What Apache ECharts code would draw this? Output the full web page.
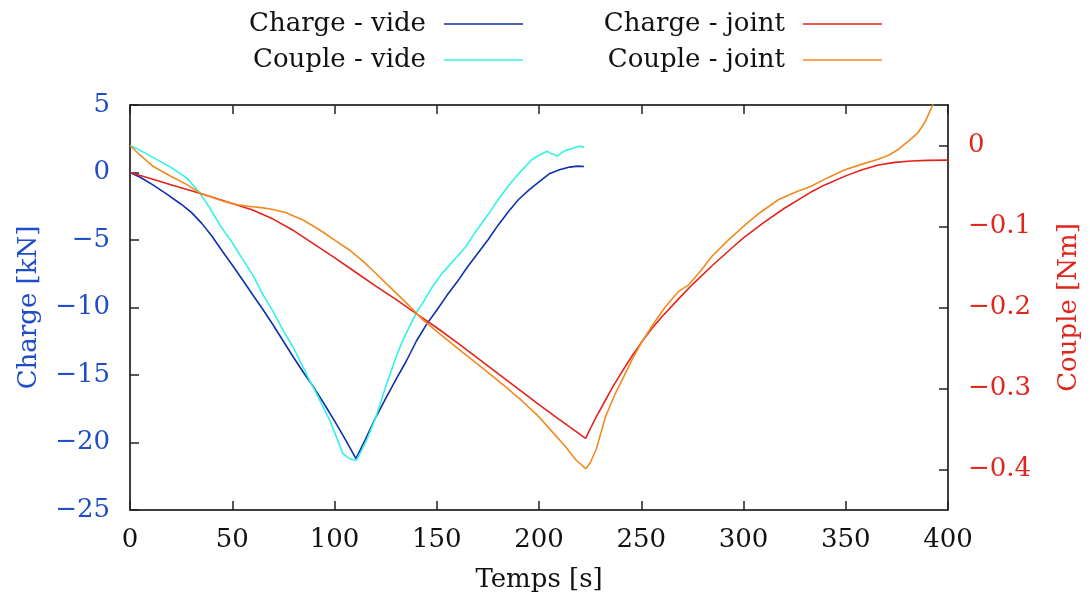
<!DOCTYPE html>
<html>
<head>
<meta charset="utf-8">
<script src="https://cdn.jsdelivr.net/npm/echarts@6/dist/echarts.min.js"></script>
<style>html,body{margin:0;padding:0;background:#fff}#c{width:1090px;height:601px}</style>
</head>
<body>
<div id="c"></div>
<script>
// ---- Data ----
const seriesNames = ['Charge - vide', 'Couple - vide', 'Charge - joint', 'Couple - joint'];
const xTicks = [0, 50, 100, 150, 200, 250, 300, 350, 400];
const leftTicks = [-25, -20, -15, -10, -5, 0, 5];
const rightTicks = [0, -0.1, -0.2, -0.3, -0.4];

const chargeVideT = [0,5,11,18,25,30,35,40,45,50,55,60,65,70,75,80,85,90,95,100,105,110.5,115,120,125,130,135,140,145,150,155,160,165,170,175,180,185,190,195,200,205,210,215,219,222];
const chargeVide  = [0,-0.35,-0.9,-1.6,-2.35,-2.95,-3.75,-4.7,-5.8,-6.85,-7.95,-9.05,-10.15,-11.3,-12.5,-13.7,-14.85,-15.95,-17.15,-18.4,-19.7,-21.2,-19.8,-18.2,-16.75,-15.35,-14.0,-12.5,-11.25,-10.2,-9.1,-8.1,-7.0,-6.0,-5.0,-3.9,-2.9,-2.0,-1.3,-0.7,-0.1,0.2,0.4,0.47,0.45];

const coupleVideT = [0,5,11.4,20,27.7,34.1,39,43.9,50,55,60.1,65,70,74.8,80,87.8,92,97.6,101,104,107,110.6,113,116,120.3,125,130.1,133,136.6,139.9,144,148,152,156.1,160,164.2,168,172,176,180.5,185,190,196.7,200,204,206,208.9,211,213,216,219.5,222];
const coupleVide  = [0,-0.006,-0.015,-0.027,-0.040,-0.0585,-0.077,-0.098,-0.120,-0.140,-0.160,-0.184,-0.205,-0.228,-0.250,-0.290,-0.310,-0.339,-0.360,-0.380,-0.386,-0.389,-0.378,-0.362,-0.335,-0.298,-0.261,-0.243,-0.224,-0.207,-0.191,-0.174,-0.160,-0.148,-0.137,-0.125,-0.110,-0.096,-0.082,-0.065,-0.050,-0.035,-0.017,-0.012,-0.007,-0.010,-0.013,-0.009,-0.006,-0.004,-0.001,-0.002];

const chargeJointT = [0,10,20,30,40,50,60,70,80,90,100,110,120,130,140,150,160,170,180,190,200,210,222.8,225,228,232,236,240,245,250,255,260,268,275,285,295,300,310,320,333,340,350,358,366,374,382,390,400];
const chargeJoint  = [0,-0.45,-0.9,-1.35,-1.82,-2.3,-2.78,-3.45,-4.3,-5.3,-6.3,-7.35,-8.4,-9.4,-10.45,-11.5,-12.6,-13.75,-14.9,-16.05,-17.2,-18.3,-19.7,-19.0,-18.1,-17.0,-15.9,-14.9,-13.7,-12.6,-11.6,-10.7,-9.4,-8.3,-6.85,-5.5,-4.85,-3.7,-2.65,-1.45,-0.9,-0.25,0.2,0.55,0.75,0.85,0.9,0.92];

const coupleJointT = [0,5,11.4,20,27.7,34.1,40,46,52,58,65,70,76.4,80,84.6,90,95,100.8,107.3,114,120.3,126,131.7,137,143.1,151.2,159,167.5,175,183.7,192,200,206,213,218,222.8,225,228,232.5,237,242.3,246,250.4,256,261.8,268.3,273.2,279,284.5,292,300.8,308,317,325,333.3,341,349.6,358,365.9,371,375.6,380.5,385.4,389,392.7,396];
const coupleJoint  = [0,-0.012,-0.026,-0.038,-0.048,-0.0585,-0.064,-0.069,-0.073,-0.075,-0.077,-0.079,-0.083,-0.087,-0.092,-0.100,-0.108,-0.118,-0.129,-0.143,-0.158,-0.172,-0.186,-0.199,-0.215,-0.232,-0.248,-0.265,-0.280,-0.298,-0.316,-0.335,-0.352,-0.372,-0.388,-0.399,-0.392,-0.375,-0.335,-0.308,-0.281,-0.262,-0.242,-0.220,-0.199,-0.180,-0.172,-0.155,-0.137,-0.118,-0.098,-0.083,-0.067,-0.058,-0.050,-0.040,-0.030,-0.023,-0.017,-0.012,-0.005,0.005,0.016,0.030,0.051,0.07];

// ---- Styling ----
const FONT = 'DejaVu Serif';
const FS = 26;
const colors = ['#0f2fae', '#33f2e4', '#e3231b', '#f38a20'];
const blueText = '#1f4cc8';
const redText = '#e0261c';
const minus = v => String(v).replace('-', '\u2212');
const pairs = (t, v) => t.map((x, i) => [x, v[i]]);

const chart = echarts.init(document.getElementById('c'), null, {renderer: 'canvas'});

function legendFor(name, rightPx, topPx) {
  return {
    data: [name], right: rightPx, top: topPx, padding: 0,
    align: 'right', icon: 'rect', itemWidth: 79, itemHeight: 1.6,
    selectedMode: false,
    textStyle: {fontFamily: FONT, fontSize: FS, color: '#111', lineHeight: 30, padding: [0, 13, 0, 0]}
  };
}

const lineStyleAxis = {color: '#000', width: 1.5};
const tickStyle = {color: '#222', width: 1.5};

chart.setOption({
  animation: false,
  color: colors,
  legend: [
    legendFor(seriesNames[0], 567, 9),
    legendFor(seriesNames[1], 567, 45),
    legendFor(seriesNames[2], 208, 9),
    legendFor(seriesNames[3], 208, 45)
  ],
  grid: {left: 130, right: 140, top: 105, bottom: 91, show: false},
  xAxis: [{
    type: 'value', min: 0, max: 400, interval: 50, position: 'bottom',
    name: 'Temps [s]', nameLocation: 'middle', nameGap: 57,
    nameTextStyle: {fontFamily: FONT, fontSize: FS, color: '#111'},
    axisLine: {show: true, onZero: false, lineStyle: lineStyleAxis},
    axisTick: {show: true, inside: true, length: 9, lineStyle: tickStyle},
    axisLabel: {show: true, fontFamily: FONT, fontSize: FS, color: '#111', margin: 17},
    splitLine: {show: false}
  }, {
    type: 'value', min: 0, max: 400, interval: 50, position: 'top',
    axisLine: {show: true, onZero: false, lineStyle: lineStyleAxis},
    axisTick: {show: true, inside: true, length: 9, lineStyle: tickStyle},
    axisLabel: {show: false},
    splitLine: {show: false}
  }],
  yAxis: [{
    type: 'value', min: -25, max: 5, interval: 5, position: 'left',
    name: 'Charge [kN]', nameLocation: 'middle', nameGap: 88, nameRotate: 90,
    nameTextStyle: {fontFamily: FONT, fontSize: FS, color: blueText},
    axisLine: {show: true, onZero: false, lineStyle: lineStyleAxis},
    axisTick: {show: true, inside: true, length: 9, lineStyle: tickStyle},
    axisLabel: {show: true, fontFamily: FONT, fontSize: FS, color: blueText, margin: 20, formatter: minus},
    splitLine: {show: false}
  }, {
    type: 'value', min: -0.45, max: 0.05, position: 'right',
    name: 'Couple [Nm]', nameLocation: 'middle', nameGap: 108, nameRotate: 90,
    nameTextStyle: {fontFamily: FONT, fontSize: FS, color: redText},
    axisLine: {show: true, onZero: false, lineStyle: lineStyleAxis},
    axisTick: {show: true, inside: true, length: 9, lineStyle: tickStyle, customValues: rightTicks},
    axisLabel: {show: true, fontFamily: FONT, fontSize: FS, color: redText, margin: 20, formatter: minus, customValues: rightTicks},
    splitLine: {show: false}
  }],
  series: [
    {name: seriesNames[0], type: 'line', xAxisIndex: 0, yAxisIndex: 0, data: pairs(chargeVideT, chargeVide)},
    {name: seriesNames[1], type: 'line', xAxisIndex: 0, yAxisIndex: 1, data: pairs(coupleVideT, coupleVide)},
    {name: seriesNames[2], type: 'line', xAxisIndex: 0, yAxisIndex: 0, data: pairs(chargeJointT, chargeJoint)},
    {name: seriesNames[3], type: 'line', xAxisIndex: 0, yAxisIndex: 1, data: pairs(coupleJointT, coupleJoint)}
  ].map(s => Object.assign(s, {showSymbol: false, symbol: 'none', clip: true, lineStyle: {width: 1.6}}))
});
</script>
</body>
</html>
